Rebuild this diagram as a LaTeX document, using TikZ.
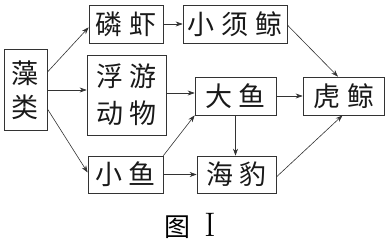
\documentclass[tikz,border=0pt]{standalone}
\usepackage{fontspec}
\newfontfamily\cjk{Noto Sans CJK SC}
\usetikzlibrary{arrows.meta}
\newcommand\gp{\hspace{7pt}}
\tikzset{
  box/.style={draw=black!80, line width=0.7pt, inner sep=0pt, align=center,
    font=\cjk\fontsize{27}{34}\selectfont, text=black!90},
  arr/.style={draw=black!80, line width=0.6pt, -{Stealth[length=7pt,width=5pt]}},
}
\begin{document}
\begin{tikzpicture}[x=1pt,y=-1pt]
\useasboundingbox (0,0) rectangle (387,243);
\node[box, minimum width=43pt, minimum height=81pt] (zao) at (25.5,90) {藻\\类};
\node[box, minimum width=74pt, minimum height=38pt] (linxia) at (126,24) {磷\gp 虾};
\node[box, minimum width=104pt, minimum height=38pt] (xxj) at (235,24) {小\gp 须\gp 鲸};
\node[box, minimum width=79pt, minimum height=80pt, font=\cjk\fontsize{27}{37}\selectfont] (fuyou) at (126.5,95) {浮\gp 游\\动\gp 物};
\node[box, minimum width=81pt, minimum height=38pt] (dayu) at (235.5,96) {大\gp 鱼};
\node[box, minimum width=81pt, minimum height=38pt] (hujing) at (343.5,96) {虎\gp 鲸};
\node[box, minimum width=75pt, minimum height=37pt] (xiaoyu) at (125.5,174.5) {小\gp 鱼};
\node[box, minimum width=79pt, minimum height=37pt] (haibao) at (236.5,174.5) {海\gp 豹};
\node[inner sep=0pt, anchor=base] (cap) at (190,236) {{\cjk\fontsize{26}{30}\selectfont 图}\hspace{14pt}{\fontsize{34}{36}\selectfont I}};
% arrows
\draw[arr] ([shift={(0,23)}]zao.north east) -- ([shift={(0,-16)}]linxia.south west);
\draw[arr] (zao.east) -- (zao.east -| fuyou.west);
\draw[arr] ([shift={(0,-22)}]zao.south east) -- ([shift={(0,-2)}]xiaoyu.west);
\draw[arr] (linxia.east) -- (xxj.west);
\draw[arr] ([shift={(0,1)}]xxj.east) -- ([shift={(-5.5,0)}]hujing.north);
\draw[arr] ([shift={(0,-2)}]fuyou.east) -- ([shift={(0,-2)}]fuyou.east -| dayu.west);
\draw[arr] (xiaoyu.north east) -- (dayu.south west);
\draw[arr] (xiaoyu.east) -- (haibao.west);
\draw[arr] (dayu.south) -- (dayu.south |- haibao.north);
\draw[arr] (dayu.east) -- (hujing.west);
\draw[arr] ([shift={(0,2.5)}]haibao.east) -- ([shift={(-1,0)}]hujing.south);
\end{tikzpicture}
\end{document}
